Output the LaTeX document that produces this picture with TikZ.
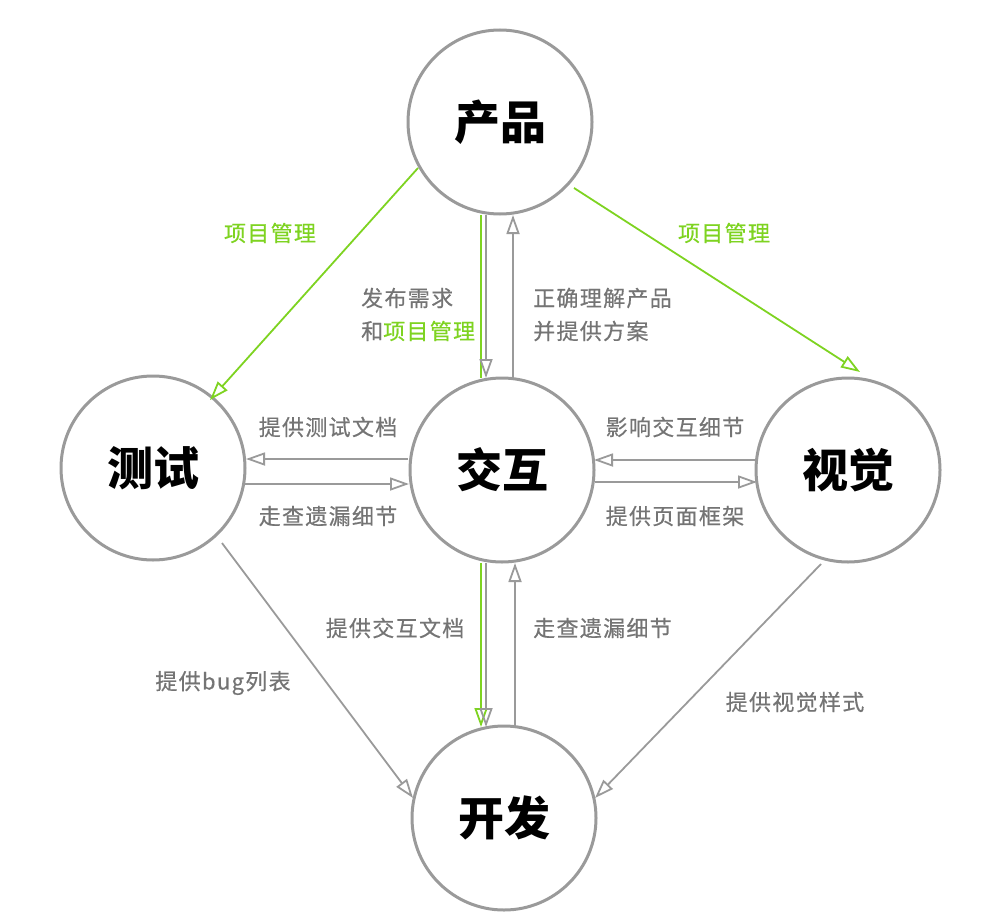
\documentclass[tikz,border=0pt]{standalone}
\usepackage{fontspec}
\setmainfont{Noto Sans CJK SC}
\newfontfamily\lblfont[LetterSpace=6, FakeBold=0.5]{Noto Sans CJK SC}
\usetikzlibrary{arrows.meta}
\definecolor{cgray}{HTML}{9A9A9A}
\definecolor{tgray}{HTML}{747474}
\definecolor{cgreen}{HTML}{7ED321}
\tikzset{
  role/.style={circle, draw=cgray, line width=3pt, minimum size=184pt, inner sep=0pt, font=\fontsize{46}{50}\selectfont\bfseries, text=black},
  conn/.style={draw=cgray, line width=1.8pt, -{Triangle[open, length=19pt, width=13pt]}},
  gconn/.style={draw=cgreen, line width=1.8pt, -{Triangle[open, length=19pt, width=13pt]}},
  gline/.style={draw=cgreen, line width=1.8pt},
  lbl/.style={font=\lblfont\fontsize{22}{33}\selectfont, text=tgray, inner sep=0pt},
  glbl/.style={lbl, text=cgreen},
}
\begin{document}
\begin{tikzpicture}[x=1pt, y=-1pt]
\useasboundingbox (0,0) rectangle (1008,920);
\node[role] (cp) at (500,122) {产品};
\node[role] (cs) at (153,468) {测试};
\node[role] (jh) at (502,470) {交互};
\node[role] (sj) at (848,470) {视觉};
\node[role] (kf) at (504,818) {开发};

% product -> test / visual
\coordinate (a1) at (418,168); \coordinate (a2) at (210,400);
\draw[gconn] (a1) -- (a2);
\coordinate (b1) at (574,188); \coordinate (b2) at (860,372);
\draw[gconn] (b1) -- (b2);

% product <-> interaction
\coordinate (c1) at (481,215); \coordinate (c2) at (481,378);
\draw[gline] (c1) -- (c2);
\coordinate (d1) at (486,215); \coordinate (d2) at (486,378);
\draw[conn] (d1) -- (d2);
\coordinate (e1) at (513,378); \coordinate (e2) at (513,215);
\draw[conn] (e1) -- (e2);

% interaction <-> test
\coordinate (f1) at (408,459); \coordinate (f2) at (246,459);
\draw[conn] (f1) -- (f2);
\coordinate (g1) at (245,484); \coordinate (g2) at (409,484);
\draw[conn] (g1) -- (g2);

% visual <-> interaction
\coordinate (h1) at (755,460); \coordinate (h2) at (594,460);
\draw[conn] (h1) -- (h2);
\coordinate (i1) at (595,482); \coordinate (i2) at (757,482);
\draw[conn] (i1) -- (i2);

% interaction <-> dev
\coordinate (j1) at (481,563); \coordinate (j2) at (481,727);
\draw[gconn] (j1) -- (j2);
\coordinate (k1) at (486,563); \coordinate (k2) at (486,727);
\draw[conn] (k1) -- (k2);
\coordinate (l1) at (515,727); \coordinate (l2) at (515,563);
\draw[conn] (l1) -- (l2);

% test -> dev, visual -> dev
\coordinate (m1) at (222,543); \coordinate (m2) at (413,798);
\draw[conn] (m1) -- (m2);
\coordinate (n1) at (821,564); \coordinate (n2) at (595,798);
\draw[conn] (n1) -- (n2);

% labels
\node[glbl] (t1) at (270,233) {项目管理};
\node[glbl] (t2) at (724,233) {项目管理};
\node[lbl, anchor=west] (t3) at (361,298) {发布需求};
\node[lbl, anchor=west] (t4) at (361,331) {和\textcolor{cgreen}{项目管理}};
\node[lbl, anchor=west] (t5) at (533,298) {正确理解产品};
\node[lbl, anchor=west] (t6) at (533,331) {并提供方案};
\node[lbl] (t7) at (328,427) {提供测试文档};
\node[lbl] (t8) at (328,516) {走查遗漏细节};
\node[lbl] (t9) at (675,427) {影响交互细节};
\node[lbl] (t10) at (675,516) {提供页面框架};
\node[lbl] (t11) at (395,628) {提供交互文档};
\node[lbl, anchor=west] (t12) at (533,628) {走查遗漏细节};
\node[lbl] (t13) at (223,683) {提供bug列表};
\node[lbl] (t14) at (795,702) {提供视觉样式};
\end{tikzpicture}
\end{document}
